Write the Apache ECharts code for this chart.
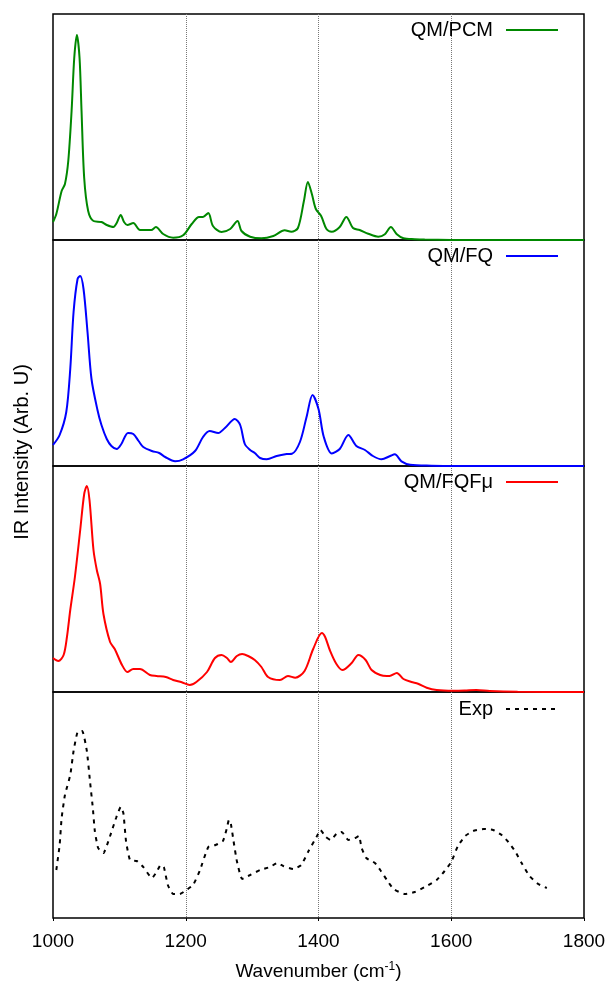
<!DOCTYPE html>
<html><head><meta charset="utf-8">
<script src="https://cdn.jsdelivr.net/npm/echarts/dist/echarts.min.js"></script>
<style>html,body{margin:0;padding:0;background:#fff}#c{width:610px;height:986px}</style>
</head><body><div id="c"></div>
<script>
// ---- data (wavenumber in cm^-1, intensity in arbitrary units) ----
const xTicks = [1000, 1200, 1400, 1600, 1800];
const seriesNames = ['QM/PCM', 'QM/FQ', 'QM/FQFμ', 'Exp'];

const pcmX = [1000,1005,1013,1018,1023,1028,1032,1036,1040,1043,1047,1053,1061,1073,1081,1091,1096,1102,1107,1112,1121,1131,1141,1148,1155,1166,1181,1196,1209,1220,1226,1234,1241,1254,1267,1278,1284,1297,1314,1332,1349,1359,1369,1378,1384,1390,1396,1404,1412,1420,1432,1442,1452,1462,1475,1490,1500,1509,1518,1528,1545,1560,1600,1700,1800];
const pcmY = [18,26,49,56,79,129,182,205,182,129,62,29,19,18,15,13,17,25,18,15,17,10,10,10,13,6,2.3,4.7,16,23,23,27,14,8,11,19,9,3.3,1.7,4,9.7,8.3,12,39,58,46,31,24,11,8.3,13,23,12,10,6.3,3.3,5.7,13,5.7,1.7,0.8,0.4,0.1,0,0];

const fqX = [1000,1010,1020,1026,1031,1037,1041,1046,1052,1058,1067,1073,1081,1088,1096,1103,1113,1121,1129,1136,1149,1160,1169,1184,1196,1214,1226,1236,1249,1259,1274,1282,1289,1297,1304,1312,1322,1337,1352,1360,1372,1382,1391,1400,1408,1420,1432,1445,1457,1470,1482,1495,1508,1515,1525,1538,1570,1600,1700,1800];
const fqY = [21,31,54,97,154,187,190,177,134,87,56,41,27,20,17,22,33,32,25,19,15,13,9,4.7,6.7,15,29,35,33,38,47,41,22,16,13,8,6.7,10,12,12.3,24,49,71,57,29,12.5,17,31,20,16,10,6.7,10,11.7,4.7,1.3,0.3,0.1,0,0];

const fqfmuX = [1000,1008,1016,1021,1026,1033,1041,1047,1051,1055,1061,1066,1071,1076,1086,1093,1104,1112,1121,1131,1146,1156,1170,1181,1194,1206,1216,1232,1244,1254,1262,1268,1277,1285,1294,1304,1314,1324,1342,1354,1365,1379,1392,1405,1410,1417,1427,1436,1450,1460,1471,1480,1493,1503,1507,1518,1528,1540,1550,1563,1578,1603,1620,1638,1658,1700,1800];
const fqfmuY = [34,31,37,55,82,115,162,198,206,192,142,122,108,78,50,43,27,20,23,23,17,16,15,12,9.7,7,10,20,34,37,34,30,36,38,36,32,25,15,12,16,14.3,21,43,59,55,42,28,22,29,37,32,22,17,16,16,19,13,10,8.3,4.3,2,1.3,1.5,2,1,0.3,0];

const expX = [1005,1010,1013,1018,1026,1031,1037,1044,1051,1056,1060,1063,1068,1076,1086,1095,1102,1106,1110,1116,1126,1136,1149,1157,1162,1167,1173,1181,1191,1201,1211,1221,1234,1245,1256,1262,1265,1268,1272,1277,1285,1297,1312,1327,1338,1347,1362,1374,1385,1397,1403,1411,1418,1427,1435,1445,1455,1461,1465,1472,1485,1493,1503,1513,1530,1545,1563,1578,1590,1600,1610,1621,1633,1649,1663,1676,1686,1696,1706,1718,1731,1744];
const expY = [48,73,100,123,143,167,186,187,167,135,110,87,70,65,82,100,111,105,77,58,57,51,40,47,53,51,33,24,24,28,33,47,71,73,77,90,98,94,77,57,39,43,48,51,55,52,49,53,67,81,88,81,78,84,86,78,80,82,70,60,55,48,38,29,24,26,32,38,47,56,72,82,87,89,88,83,76,67,55,42,34,30];

const xAxisTitle = '{a|Wavenumber (cm}{s|-1}{a|)}';
const yAxisTitle = 'IR Intensity (Arb. U)';

// ---- chart ----
const FONT = '"Liberation Sans", Arial, Helvetica, sans-serif';
const xs = [pcmX, fqX, fqfmuX, expX];
const ys = [pcmY, fqY, fqfmuY, expY];
const colors = ['#008800', '#0000ff', '#ff0000', '#000000'];
const tops = [14, 240, 466, 692];
const legendTops = [20, 246, 472, 699];
const H = 226;

const grids = tops.map(t => ({
  left: 53, width: 531, top: t, height: H, show: true,
  borderColor: '#000', borderWidth: 1.5, backgroundColor: 'transparent'
}));

const xAxes = tops.map((t, i) => {
  const last = i === 3;
  return {
    type: 'value', gridIndex: i, min: xTicks[0], max: xTicks[xTicks.length - 1], interval: 200,
    axisLine: { show: false },
    axisTick: { show: last, length: 3, lineStyle: { color: '#000' } },
    axisLabel: { show: last, fontSize: 19, fontFamily: FONT, color: '#000', margin: 14,
                 formatter: v => String(v) },
    splitLine: { show: true, showMinLine: false, showMaxLine: false, lineStyle: { type: 'dotted', color: '#777', width: 1 } },
    name: last ? xAxisTitle : '',
    nameLocation: 'middle', nameGap: 43,
    nameTextStyle: {
      rich: {
        a: { fontSize: 19, fontFamily: FONT, color: '#000', lineHeight: 22 },
        s: { fontSize: 12, fontFamily: FONT, color: '#000', verticalAlign: 'top', lineHeight: 12 }
      }
    }
  };
});

const yAxes = tops.map((t, i) => ({
  type: 'value', gridIndex: i, min: 0, max: H,
  axisLine: { show: false }, axisTick: { show: false }, axisLabel: { show: false }, splitLine: { show: false }
}));

const series = seriesNames.map((n, i) => ({
  name: n, type: 'line', xAxisIndex: i, yAxisIndex: i, symbol: 'none',
  smooth: i === 3 ? 0.15 : 0.3,
  lineStyle: { color: colors[i], width: 2, type: i === 3 ? [4, 5] : 'solid' },
  itemStyle: { color: colors[i] },
  data: xs[i].map((x, k) => [x, ys[i][k]])
}));

const legends = seriesNames.map((n, i) => ({
  data: [n], right: 51, top: legendTops[i], padding: 0, align: 'right',
  itemWidth: 52, itemHeight: 14, selectedMode: false,
  itemStyle: { opacity: 0 },
  textStyle: { fontSize: 20, fontFamily: FONT, color: '#000', padding: [0, 8, 0, 0] }
}));

const chart = echarts.init(document.getElementById('c'), null, { renderer: 'canvas' });
chart.setOption({
  animation: false,
  backgroundColor: '#fff',
  grid: grids, xAxis: xAxes, yAxis: yAxes, series: series, legend: legends,
  graphic: [{
    type: 'text', x: 22, y: 452, rotation: Math.PI / 2,
    style: { text: yAxisTitle, fontSize: 20, fontFamily: FONT, fill: '#000', align: 'center', verticalAlign: 'middle' }
  }]
});
</script>
</body></html>
